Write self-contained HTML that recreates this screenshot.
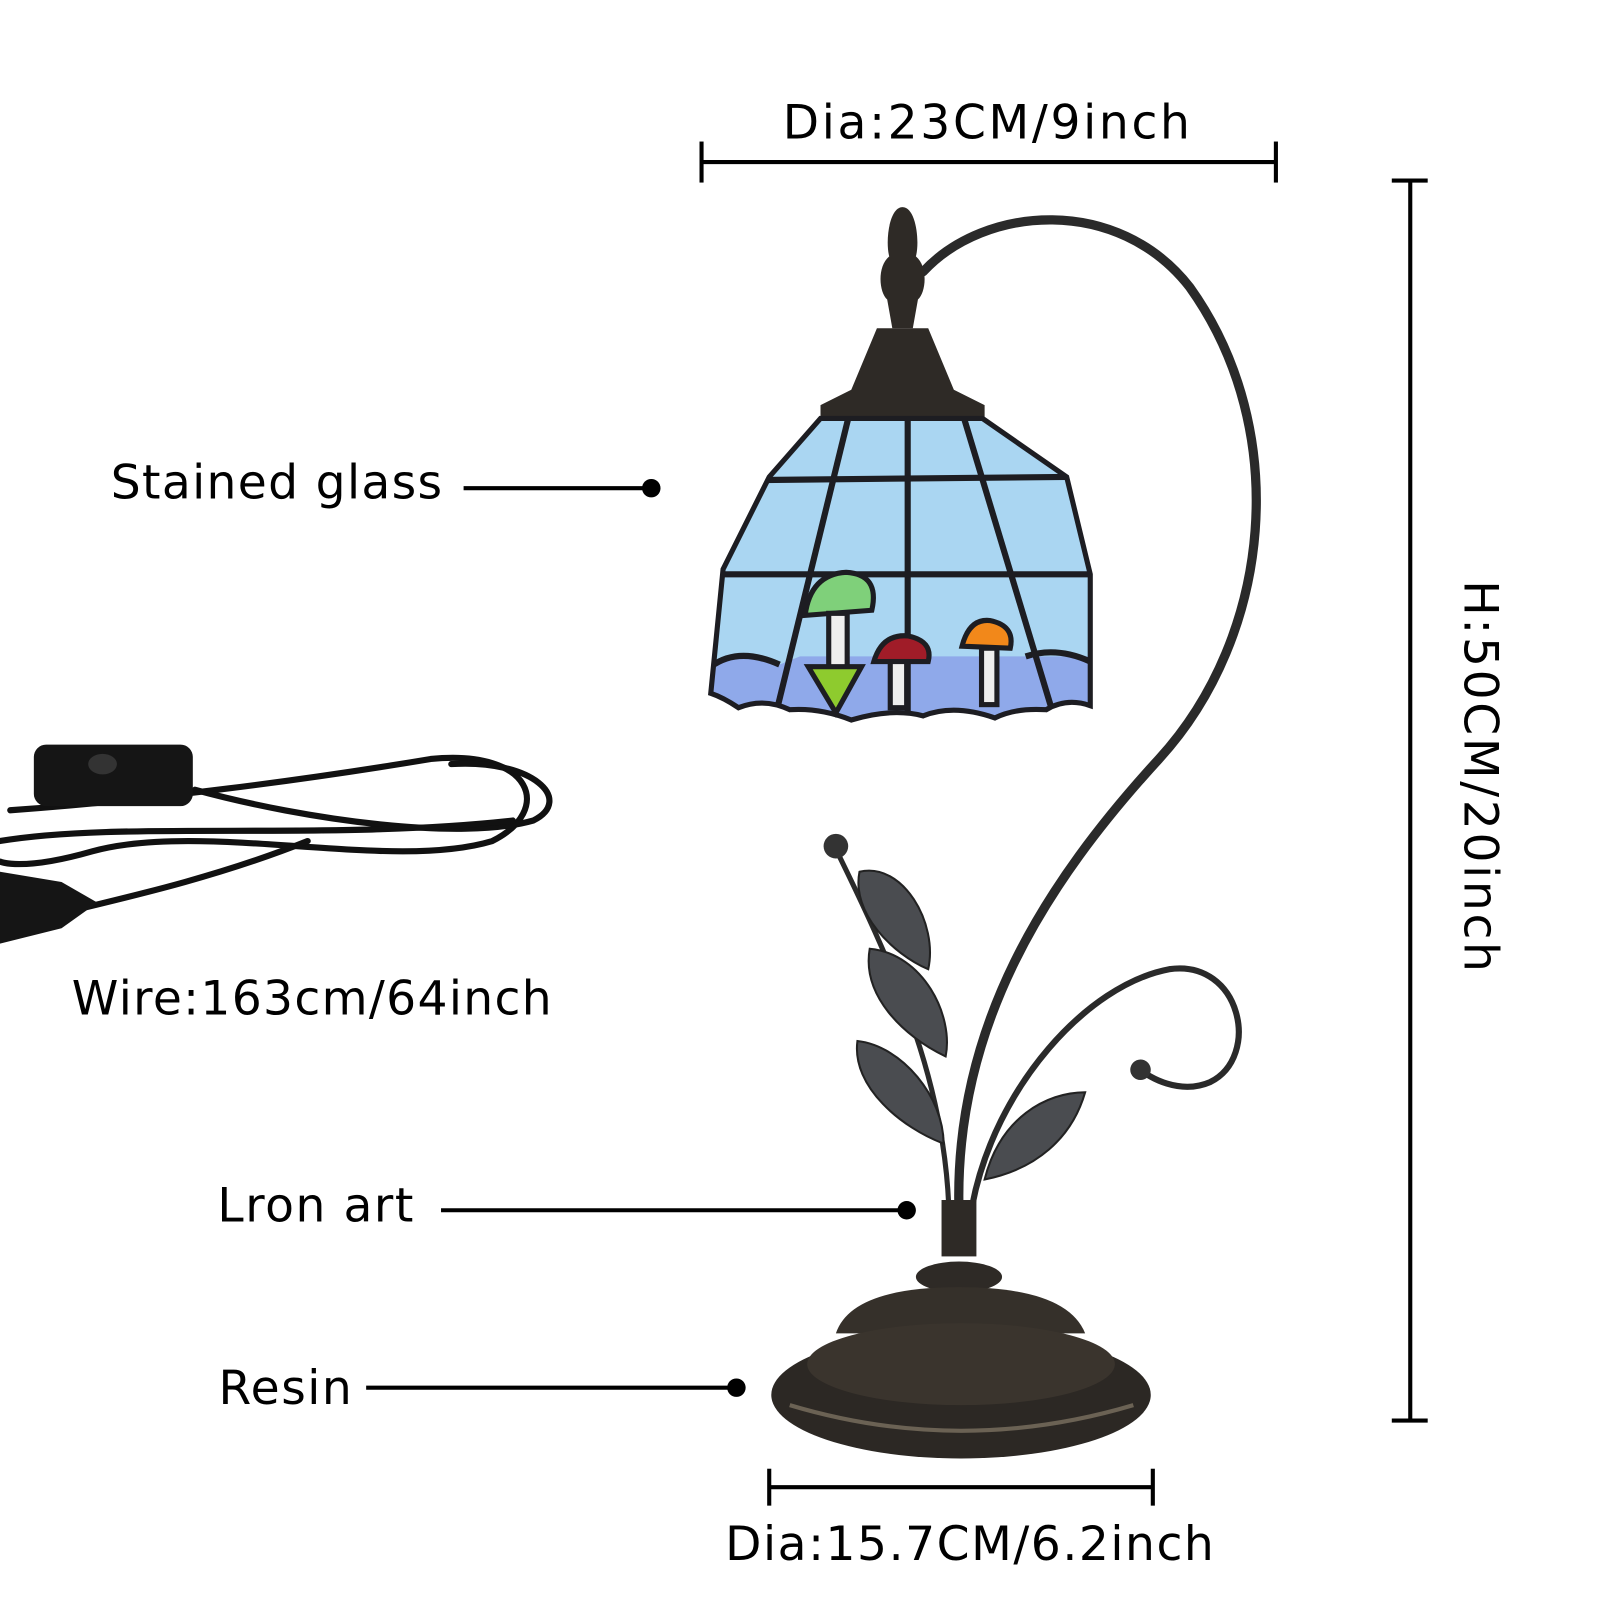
<!DOCTYPE html>
<html><head><style>html,body{margin:0;padding:0;background:#fff}svg{display:block}</style></head><body>
<svg width="1600" height="1600" viewBox="0 0 1560 1560" xmlns="http://www.w3.org/2000/svg" font-family="'DejaVu Sans','Liberation Sans',sans-serif">
<rect width="1560" height="1560" fill="#fff"/>
<g stroke="#000" stroke-width="4" fill="none">
<line x1="684" y1="158" x2="1244" y2="158"/><line x1="684" y1="138" x2="684" y2="178"/><line x1="1244" y1="138" x2="1244" y2="178"/>
<line x1="1375" y1="176" x2="1375" y2="1385"/><line x1="1357" y1="176" x2="1392" y2="176"/><line x1="1357" y1="1385" x2="1392" y2="1385"/>
<line x1="750" y1="1450" x2="1124" y2="1450"/><line x1="750" y1="1432" x2="750" y2="1468"/><line x1="1124" y1="1432" x2="1124" y2="1468"/>
<line x1="452" y1="476" x2="635" y2="476"/><line x1="430" y1="1180" x2="884" y2="1180"/><line x1="357" y1="1353" x2="718" y2="1353"/>
</g>
<g fill="#000"><circle cx="635" cy="476" r="9"/><circle cx="884" cy="1180" r="9"/><circle cx="718" cy="1353" r="9"/></g>
<g font-size="46" fill="#000">
<text x="963" y="135" text-anchor="middle" letter-spacing="2.6">Dia:23CM/9inch</text>
<text x="946" y="1521" text-anchor="middle" letter-spacing="1.5">Dia:15.7CM/6.2inch</text>
<text transform="translate(1428,758) rotate(90)" text-anchor="middle" letter-spacing="2.6">H:50CM/20inch</text>
<text x="108" y="486" letter-spacing="1.3">Stained glass</text>
<text x="70" y="989" letter-spacing="1.3">Wire:163cm/64inch</text>
<text x="212" y="1191" letter-spacing="1.5">Lron art</text>
<text x="213" y="1369" letter-spacing="1.5">Resin</text>
</g>
<g fill="none" stroke="#2a2a2a" stroke-linecap="round">
<path d="M900 265 C960 200 1090 190 1160 280 C1260 420 1240 620 1130 740 C1020 860 930 1000 935 1180" stroke-width="9"/>
<path d="M948 1175 C970 1060 1060 960 1140 945 C1210 935 1230 1030 1180 1055 C1150 1068 1120 1050 1112 1043" stroke-width="6"/>
<path d="M925 1175 C920 1060 880 960 815 828" stroke-width="5"/>
</g>
<circle cx="815" cy="825" r="12" fill="#333"/><circle cx="1112" cy="1043" r="10" fill="#333"/>
<g fill="#4a4c50" stroke="#222" stroke-width="2">
<path d="M838 850 C880 840 915 900 905 945 C870 930 830 890 838 850Z"/>
<path d="M848 925 C900 930 930 990 922 1030 C880 1010 840 970 848 925Z"/>
<path d="M836 1015 C880 1020 920 1070 920 1115 C880 1100 830 1060 836 1015Z"/>
<path d="M1058 1065 C1020 1065 975 1090 960 1150 C1010 1140 1045 1110 1058 1065Z"/>
</g>
<path d="M880 202 C893 202 897 235 893 250 C905 260 903 285 895 292 L890 320 L870 320 L865 292 C857 285 855 260 867 250 C863 235 867 202 880 202Z" fill="#2e2a26"/>
<path d="M855 320 L905 320 L930 380 L960 395 L960 410 L800 410 L800 395 L830 380Z" fill="#2e2a26"/>
<defs><clipPath id="sh"><path d="M800 408 L958 408 L1040 465 L1063 560 L1063 688 Q1040 680 1020 692 Q990 690 970 700 Q930 686 900 698 Q870 690 830 702 Q800 690 770 692 Q745 680 720 690 Q705 680 693 676 L705 555 L750 465Z"/></clipPath></defs>
<g clip-path="url(#sh)">
<rect x="690" y="400" width="380" height="310" fill="#aad6f2"/>
<path d="M693 650 Q720 630 760 648 L780 640 L1063 640 L1063 710 L693 710Z" fill="#8fa9ea"/>
<g stroke="#1d1d22" stroke-width="6" fill="none">
<line x1="885" y1="405" x2="885" y2="700"/>
<line x1="827" y1="408" x2="758" y2="690"/><line x1="940" y1="408" x2="1025" y2="690"/>
<path d="M745 468 L1040 465"/><path d="M700 560 L1063 560"/>
<path d="M693 650 Q720 630 760 648"/><path d="M1000 640 Q1030 630 1063 645"/>
</g>
</g>
<path d="M800 408 L958 408 L1040 465 L1063 560 L1063 688 Q1040 680 1020 692 Q990 690 970 700 Q930 686 900 698 Q870 690 830 702 Q800 690 770 692 Q745 680 720 690 Q705 680 693 676 L705 555 L750 465Z" fill="none" stroke="#1d1d22" stroke-width="5"/>
<g stroke="#1d1d22" stroke-width="5">
<path d="M785 600 Q790 560 825 558 Q858 560 850 595 Z" fill="#7fd07a"/>
<rect x="808" y="598" width="18" height="62" fill="#eee"/>
<path d="M788 650 L815 695 L840 650 Z" fill="#8ecb2e"/>
<path d="M852 645 Q860 618 885 620 Q910 625 905 645 Z" fill="#a01c28"/>
<rect x="868" y="645" width="16" height="45" fill="#eee"/>
<path d="M938 630 Q945 603 965 605 Q990 610 985 632 Z" fill="#f2881a"/>
<rect x="957" y="632" width="15" height="55" fill="#eee"/>
</g>
<rect x="918" y="1170" width="34" height="55" fill="#2e2a26"/>
<ellipse cx="935" cy="1245" rx="42" ry="15" fill="#2e2a26"/>
<path d="M815 1300 Q830 1255 935 1255 Q1040 1255 1058 1300 Z" fill="#35302a"/>
<ellipse cx="937" cy="1360" rx="185" ry="62" fill="#2c2824"/>
<ellipse cx="937" cy="1330" rx="150" ry="40" fill="#3a342d"/>
<path d="M770 1370 Q937 1420 1105 1370" stroke="#6b6254" stroke-width="4" fill="none"/>
<g fill="none" stroke="#111" stroke-width="6" stroke-linecap="round">
<path d="M10 790 C150 780 300 760 420 740 C520 730 540 790 480 820 C380 850 200 800 90 830 C20 850 0 840 0 840"/>
<path d="M190 770 C300 800 450 820 520 800 C560 780 520 740 440 745"/>
<path d="M0 820 C120 800 320 820 500 800"/>
<path d="M20 900 C100 880 200 860 300 820"/>
</g>
<rect x="33" y="726" width="155" height="60" rx="12" fill="#151515"/>
<ellipse cx="100" cy="745" rx="14" ry="10" fill="#333"/>
<path d="M0 850 L60 860 L95 880 L60 905 L0 920Z" fill="#151515"/>
</svg>
</body></html>
